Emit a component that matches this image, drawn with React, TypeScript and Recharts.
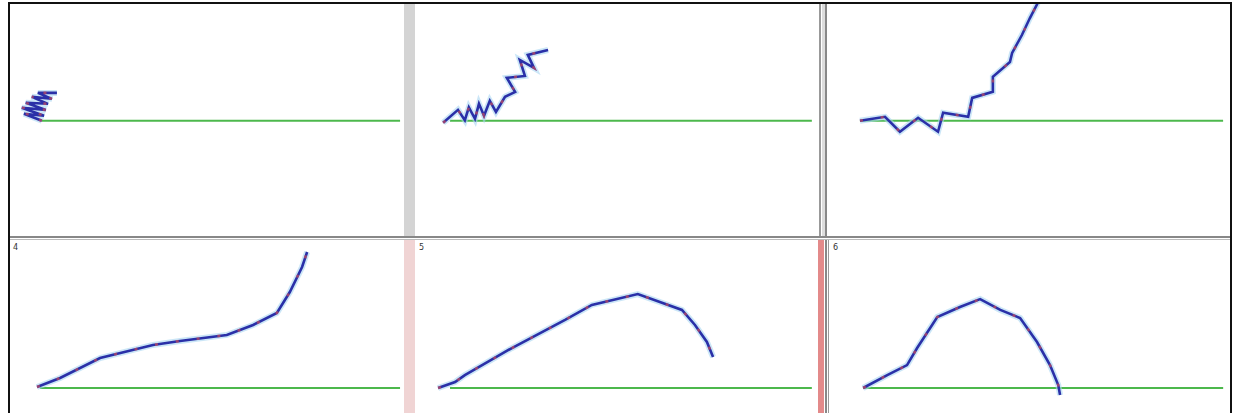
import React from 'react';
import { LineChart, Line, XAxis, YAxis } from 'recharts';

// green reference line, same in every panel
const baseline = [
  { x: 0, y: 0 },
  { x: 100, y: 0 },
];

// top row
const panel1 = [
  { x: 0, y: 0 }, { x: -5, y: 6 }, { x: 0.6, y: 4.3 }, { x: -5.6, y: 11.2 },
  { x: 1.1, y: 9.4 }, { x: -4.5, y: 15.5 }, { x: 1.7, y: 14.6 }, { x: -2.8, y: 20.6 },
  { x: 2.8, y: 18.9 }, { x: -1.1, y: 24 }, { x: 4.2, y: 24 },
];

const panel2 = [
  { x: -1.9, y: -1.7 }, { x: 2.2, y: 9.4 }, { x: 4.1, y: 0.5 }, { x: 5.2, y: 11.5 },
  { x: 6.9, y: 1.7 }, { x: 8, y: 14.6 }, { x: 9.4, y: 4.3 }, { x: 11, y: 17.2 },
  { x: 12.7, y: 7.7 }, { x: 15.2, y: 20.6 }, { x: 18, y: 24.9 }, { x: 15.7, y: 36.9 },
  { x: 20.7, y: 38.6 }, { x: 19.3, y: 52.4 }, { x: 23.2, y: 45.5 }, { x: 21.5, y: 56.7 },
  { x: 27.1, y: 60.9 },
];

const panel3 = [
  { x: 0, y: 0 }, { x: 6.9, y: 3.4 }, { x: 11, y: -9.4 }, { x: 16, y: 2.6 },
  { x: 21.5, y: -9.4 }, { x: 22.9, y: 6.9 }, { x: 29.8, y: 3.4 }, { x: 30.9, y: 19.7 },
  { x: 36.6, y: 24.9 }, { x: 36.6, y: 37.8 }, { x: 41.3, y: 50.6 }, { x: 41.9, y: 58.4 },
  { x: 44.6, y: 73.8 }, { x: 46.8, y: 88.4 }, { x: 48.8, y: 100.4 }, { x: 49.6, y: 108 },
];

// bottom row
const panel4 = [
  { x: -0.8, y: 0.7 }, { x: 5.6, y: 6.8 }, { x: 16.7, y: 20.4 }, { x: 31.4, y: 29.3 },
  { x: 38.9, y: 32 }, { x: 51.9, y: 36.1 }, { x: 59.2, y: 42.9 }, { x: 65.8, y: 51 },
  { x: 69.4, y: 65.3 }, { x: 72.8, y: 82.3 }, { x: 74.2, y: 92.5 },
];

const panel5 = [
  { x: -3.3, y: 0 }, { x: 1.4, y: 4.1 }, { x: 4.1, y: 8.8 }, { x: 17.1, y: 27.2 },
  { x: 31.8, y: 46.3 }, { x: 39.2, y: 56.5 }, { x: 51.9, y: 63.9 }, { x: 64.1, y: 53.1 },
  { x: 67.7, y: 42.9 }, { x: 71, y: 31.3 }, { x: 72.7, y: 21.1 },
];

const panel6 = [
  { x: 0, y: 0 }, { x: 6.7, y: 8.8 }, { x: 12.2, y: 15.6 }, { x: 15, y: 27.2 },
  { x: 20.6, y: 48.3 }, { x: 26.9, y: 55.1 }, { x: 32.5, y: 60.5 }, { x: 38.1, y: 53.1 },
  { x: 43.6, y: 47.6 }, { x: 48.3, y: 31.3 }, { x: 51.9, y: 15.6 }, { x: 54.2, y: 2 },
  { x: 54.7, y: -4.8 },
];

const TOP_Y: [number, number] = [-100, 100.5];
const BOTTOM_Y: [number, number] = [-17, 100];

interface PanelProps {
  left: number;
  top: number;
  width: number;
  height: number;
  xDomain: [number, number];
  yDomain: [number, number];
  points: { x: number; y: number }[];
  label?: string;
}

const Panel: React.FC<PanelProps> = ({ left, top, width, height, xDomain, yDomain, points, label }) => (
  <div style={{ position: 'absolute', left, top, width, height }}>
    <LineChart width={width} height={height} margin={{ top: 0, right: 0, bottom: 0, left: 0 }}>
      <XAxis type="number" dataKey="x" hide domain={xDomain} allowDataOverflow />
      <YAxis type="number" dataKey="y" hide domain={yDomain} allowDataOverflow />
      <Line data={baseline} dataKey="y" stroke="#4cb84c" strokeWidth={2} dot={false} isAnimationActive={false} />
      <Line data={points} dataKey="y" stroke="#a9d6f2" strokeWidth={6} strokeOpacity={0.6} dot={false} isAnimationActive={false} />
      <Line data={points} dataKey="y" stroke="#2a30a8" strokeWidth={2.6} dot={false} isAnimationActive={false} />
      <Line data={points} dataKey="y" stroke="#e05050" strokeWidth={2.6} strokeDasharray="3 18" strokeOpacity={0.6} dot={false} isAnimationActive={false} />
    </LineChart>
    {label && (
      <span style={{ position: 'absolute', left: 3, top: 2, fontFamily: 'DejaVu Sans', fontSize: 8, color: '#333' }}>
        {label}
      </span>
    )}
  </div>
);

export default function App() {
  return (
    <div style={{ position: 'fixed', left: 0, top: 0, width: 1236, height: 413, background: '#fff', overflow: 'hidden' }}>
      <Panel left={10} top={4} width={394} height={233} xDomain={[-8.9, 101.1]} yDomain={TOP_Y} points={panel1} />
      <Panel left={416} top={4} width={402} height={233} xDomain={[-9.4, 101.7]} yDomain={TOP_Y} points={panel2} />
      <Panel left={828} top={4} width={402} height={233} xDomain={[-8.8, 101.9]} yDomain={TOP_Y} points={panel3} />
      <Panel left={10} top={241} width={394} height={172} xDomain={[-8.3, 101.1]} yDomain={BOTTOM_Y} points={panel4} label="4" />
      <Panel left={416} top={241} width={402} height={172} xDomain={[-9.4, 101.7]} yDomain={BOTTOM_Y} points={panel5} label="5" />
      <Panel left={830} top={241} width={400} height={172} xDomain={[-9.2, 101.9]} yDomain={BOTTOM_Y} points={panel6} label="6" />

      {/* frame */}
      <div style={{ position: 'absolute', left: 8, top: 2, width: 1224, height: 2, background: '#111' }} />
      <div style={{ position: 'absolute', left: 8, top: 2, width: 2, height: 411, background: '#111' }} />
      <div style={{ position: 'absolute', left: 1230, top: 2, width: 2, height: 411, background: '#111' }} />
      <div style={{ position: 'absolute', left: 10, top: 236, width: 1220, height: 2, background: '#888' }} />
      <div style={{ position: 'absolute', left: 10, top: 239, width: 1220, height: 1, background: '#bbb' }} />

      {/* top row separators */}
      <div style={{ position: 'absolute', left: 404, top: 4, width: 11, height: 232, background: '#d4d4d4' }} />
      <div style={{ position: 'absolute', left: 819, top: 4, width: 2, height: 232, background: '#999' }} />
      <div style={{ position: 'absolute', left: 822, top: 4, width: 3, height: 232, background: '#ddd' }} />
      <div style={{ position: 'absolute', left: 825, top: 4, width: 2, height: 232, background: '#888' }} />

      {/* bottom row separators */}
      <div style={{ position: 'absolute', left: 404, top: 240, width: 11, height: 173, background: '#f0d4d4' }} />
      <div style={{ position: 'absolute', left: 818, top: 240, width: 6, height: 173, background: '#e38a8a' }} />
      <div style={{ position: 'absolute', left: 825, top: 240, width: 2, height: 173, background: '#888' }} />
      <div style={{ position: 'absolute', left: 828, top: 240, width: 1, height: 173, background: '#999' }} />
    </div>
  );
}
